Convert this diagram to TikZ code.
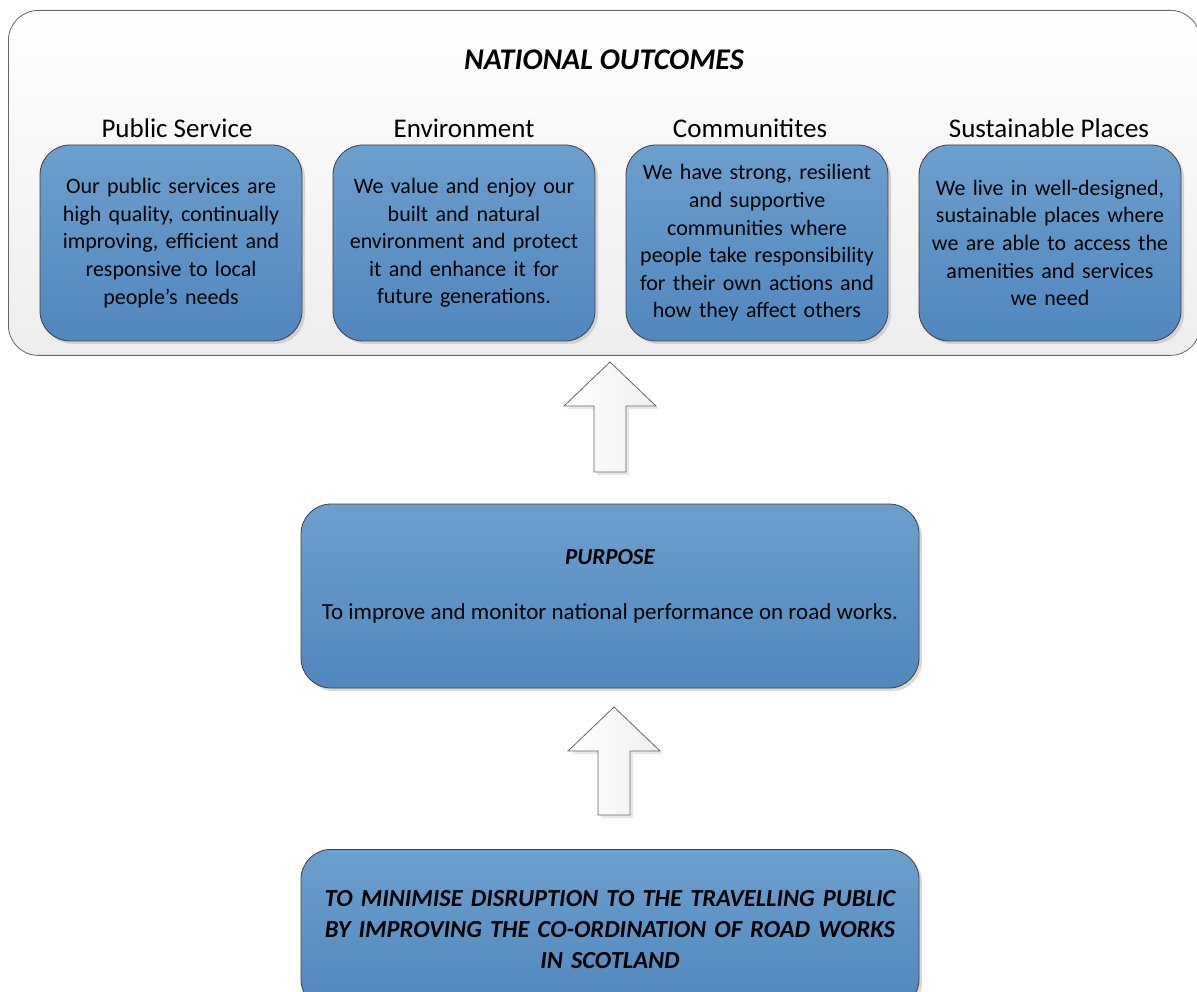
\documentclass[tikz,border=0pt]{standalone}
\usepackage{fontspec}
\setmainfont{Carlito}
\usetikzlibrary{shadows}
\begin{document}
\begin{tikzpicture}[x=1pt,y=-1pt,
  outer/.style={draw=black!60, line width=0.8pt, rounded corners=30pt, top color=white, bottom color=black!7},
  bluebox/.style={draw=black!75, line width=0.8pt, rounded corners=30pt, top color=blueTop, bottom color=blueBot,
     drop shadow={shadow xshift=3pt, shadow yshift=-3pt, fill=black!25, opacity=0.6}},
  small/.style={bluebox, minimum width=262pt, minimum height=196pt, text width=250pt, align=center, inner sep=0pt,
     font=\fontsize{22}{27.6}\selectfont},
  big/.style={bluebox, minimum width=618pt, minimum height=184pt, text width=610pt, align=center, inner sep=0pt,
     font=\fontsize{20.5}{30}\selectfont},
  head/.style={font=\fontsize{27}{30}\selectfont, inner sep=0pt},
  blockarrow/.style={draw=black!60, line width=0.8pt, left color=white, right color=black!6,
     drop shadow={shadow xshift=3pt, shadow yshift=-3pt, fill=black!15, opacity=0.6}}
]
\definecolor{blueTop}{HTML}{6C9FCD}
\definecolor{blueBot}{HTML}{5087BE}
\useasboundingbox (0,0) rectangle (1197,992);
\begin{scope}
\clip (0,0) rectangle (1197,992);
% outer container
\node[outer, minimum width=1192pt, minimum height=345pt, anchor=north west] (outer) at (8,10) {};
\node[font=\fontsize{30}{34}\selectfont\bfseries\itshape, inner sep=0pt] (title) at (604,60) {NATIONAL OUTCOMES};

\node[head] (h1) at (177,128) {Public Service};
\node[head] (h2) at (464,128) {Environment};
\node[head] (h3) at (750,128) {Communitites};
\node[head] (h4) at (1049,128) {Sustainable Places};

\node[small] (b1) at (171,243) {Our public services are\\ high quality, continually\\ improving, efficient and\\ responsive to local\\ people’s needs};
\node[small] (b2) at (464,243) {We value and enjoy our\\ built and natural\\ environment and protect\\ it and enhance it for\\ future generations.};
\node[small] (b3) at (757,243) {We have strong, resilient\\ and supportive\\ communities where\\ people take responsibility\\ for their own actions and\\ how they affect others};
\node[small] (b4) at (1050,243) {We live in well-designed,\\ sustainable places where\\ we are able to access the\\ amenities and services\\ we need};

% purpose
\node[big] (purpose) at (610,596) {};
\node[font=\fontsize{23}{27}\selectfont\bfseries\itshape, inner sep=0pt] (ptitle) at (610,557) {PURPOSE};
\node[font=\fontsize{23}{27}\selectfont, inner sep=0pt] (ptext) at (610,613) {To improve and monitor national performance on road works.};

% bottom
\node[big, minimum height=160pt, font=\fontsize{24.5}{31}\selectfont\bfseries\itshape, anchor=north] (aim) at (610,849) {TO MINIMISE DISRUPTION TO THE TRAVELLING PUBLIC\\ BY IMPROVING THE CO-ORDINATION OF ROAD WORKS\\ IN SCOTLAND};

% block arrows
\coordinate (a1) at (610,362);
\draw[blockarrow] (a1) -- ++(46,44) -- ++(-30,0) -- ++(0,66) -- ++(-32,0) -- ++(0,-66) -- ++(-30,0) -- cycle;
\coordinate (a2) at (614,707);
\draw[blockarrow] (a2) -- ++(46,44) -- ++(-30,0) -- ++(0,64) -- ++(-32,0) -- ++(0,-64) -- ++(-30,0) -- cycle;
\end{scope}
\end{tikzpicture}
\end{document}
